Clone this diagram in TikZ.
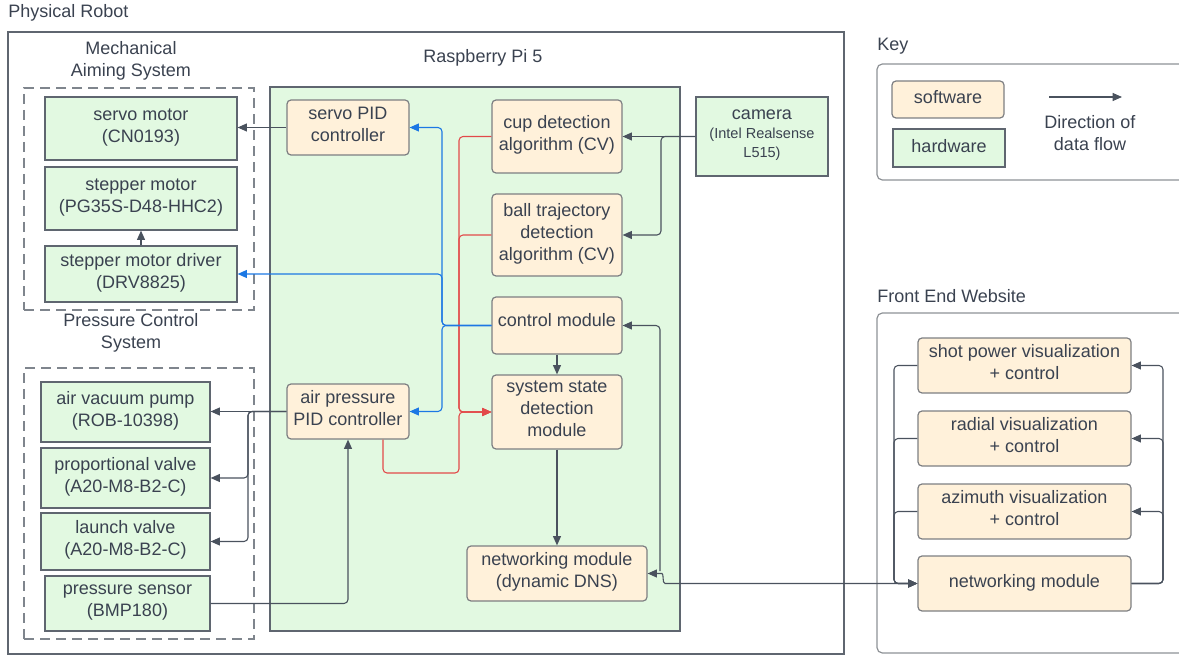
\documentclass[tikz,border=0pt]{standalone}
\usepackage{fontspec}
\setmainfont{Liberation Sans}
\usetikzlibrary{arrows.meta,fit,calc}
\definecolor{txt}{HTML}{3A4250}
\definecolor{bord}{HTML}{5F6670}
\definecolor{sbord}{HTML}{7D7F82}
\definecolor{cbord}{HTML}{8E9296}
\definecolor{gfill}{HTML}{E2F9E1}
\definecolor{ofill}{HTML}{FFF1DA}
\definecolor{linec}{HTML}{4A525E}
\definecolor{redc}{HTML}{E24A4A}
\definecolor{bluec}{HTML}{1C78E4}
\newcommand{\camsmall}{\fontsize{10.9}{14}\selectfont}
\tikzset{
  sz/.style 2 args={minimum width=#1*0.75pt, minimum height=#2*0.75pt},
  struts/.style={execute at begin node=\strut, execute at end node=\strut},
  ml/.style={execute at begin node={\rule{0pt}{15pt}}},
  camtop/.style={execute at begin node={\rule{0pt}{17pt}}},
  hw/.style={draw=bord, fill=gfill, line width=0.9pt, inner sep=0pt, align=center, text=txt, struts},
  sw/.style={draw=sbord, fill=ofill, line width=0.9pt, rounded corners=3pt, inner sep=0pt, align=center, text=txt, struts},
  grp/.style={draw=bord, line width=0.9pt, inner sep=0pt},
  cgrp/.style={draw=cbord, line width=0.9pt, rounded corners=4pt, inner sep=0pt},
  dgrp/.style={draw=bord!80, line width=0.9pt, dash pattern=on 7.5pt off 4.5pt, inner sep=0pt},
  lbl/.style={text=txt, align=center, inner sep=0pt},
  tip/.style={-{Triangle[length=7pt,width=6pt]}},
  flow/.style={draw=linec, line width=0.8pt, rounded corners=3pt, tip},
  flowboth/.style={draw=linec, line width=0.8pt, rounded corners=3pt, {Triangle[length=7pt,width=6pt]}-{Triangle[length=7pt,width=6pt]}},
  rflow/.style={draw=redc, line width=0.8pt, rounded corners=3pt, tip},
  bflow/.style={draw=bluec, line width=0.8pt, rounded corners=3pt, tip},
}
\begin{document}
\begin{tikzpicture}[x=0.75pt,y=-0.75pt,font=\fontsize{13.5}{16.5}\selectfont]
\useasboundingbox (0,0) rectangle (1179,656);
\clip (0,0) rectangle (1179,656);

% containers
\node[grp, fit={(8,32) (844,654)}] (robot) {};
\node[lbl, anchor=west] (robotlbl) at (8,13) {Physical Robot};
\node[dgrp, fit={(24,88) (254,310)}] (mech) {};
\node[lbl] (mechlbl) at (131,61) {Mechanical\\Aiming System};
\node[dgrp, fit={(24,368) (254,639)}] (pres) {};
\node[lbl] (preslbl) at (131,333) {Pressure Control\\System};
\node[hw, fit={(270,87) (680,631)}] (pi) {};
\node[lbl] (pilbl) at (483,58) {Raspberry Pi 5};

% hardware boxes
\node[hw, ml, sz={192}{63}] (servo) at (141,128.5) {servo motor\\(CN0193)};
\node[hw, ml, sz={192}{63}] (stepper) at (141,198.5) {stepper motor\\(PG35S-D48-HHC2)};
\node[hw, ml, sz={192}{56}] (drv) at (141,274) {stepper motor driver\\(DRV8825)};
\node[hw, ml, sz={169}{60}] (pump) at (125.5,412) {air vacuum pump\\(ROB-10398)};
\node[hw, ml, sz={169}{60}] (prop) at (125.5,478) {proportional valve\\(A20-M8-B2-C)};
\node[hw, ml, sz={169}{57}] (launch) at (125.5,541.5) {launch valve\\(A20-M8-B2-C)};
\node[hw, ml, sz={165}{55}] (sensor) at (127.5,603.5) {pressure sensor\\(BMP180)};
\node[hw, camtop, sz={132}{79}] (cam) at (762,136.5) {camera\\[-2pt]\camsmall (Intel Realsense\\[-2.5pt]\camsmall L515)};

% software boxes
\node[sw, ml, sz={122}{55}] (spid) at (348,127.5) {servo PID\\controller};
\node[sw, ml, sz={122}{55}] (apid) at (348,411.5) {air pressure\\PID controller};
\node[sw, sz={130}{73}] (cup) at (557,136.5) {cup detection\\algorithm (CV)};
\node[sw, sz={130}{82}] (ball) at (557,235) {ball trajectory\\detection\\algorithm (CV)};
\node[sw, sz={130}{57}] (ctrl) at (557,325.5) {\raisebox{2.6pt}{control module}};
\node[sw, ml, sz={130}{74}] (sys) at (557,412) {system state\\detection\\module};
\node[sw, ml, sz={180}{55}] (dns) at (557,573.5) {networking module\\(dynamic DNS)};

% key
\node[lbl, anchor=west] (keylbl) at (877,46) {Key};
\node[cgrp, fit={(877,64) (1200,180)}] (key) {};
\node[sw, sz={112}{37}] (ksw) at (948,99.5) {software};
\node[hw, sz={112}{38}] (khw) at (949,148) {hardware};
\coordinate (ka) at (1049,97);
\coordinate (kb) at (1122,97);
\draw[flow] (ka) -- (kb);
\node[lbl] (kdir) at (1090,133) {Direction of\\data flow};

% front end
\node[lbl, anchor=west] (felbl) at (877,296) {Front End Website};
\node[cgrp, fit={(877,313) (1200,653)}] (fe) {};
\node[sw, ml, sz={213}{55}] (shot) at (1024.5,365.5) {shot power visualization\\+ control};
\node[sw, ml, sz={213}{55}] (rad) at (1024.5,438.5) {radial visualization\\+ control};
\node[sw, ml, sz={213}{55}] (azi) at (1024.5,511.5) {azimuth visualization\\+ control};
\node[sw, sz={213}{55}] (fnet) at (1024.5,583.5) {networking module};

% gray connectors
\draw[flow] (spid.west) -- (servo.east |- spid.west);
\draw[flow] (drv.north) -- (stepper.south);
\draw[flow] (apid.west) -- (pump.east |- apid.west);
\draw[flow] (apid.west) -- (248,411.5) |- (prop.east);
\draw[flow] (apid.west) -- (248,411.5) |- (launch.east);
\draw[flow] (sensor.east) -| (apid.south);
\draw[flow] (cam.west) -- (cup.east);
\draw[flow] (cam.west) -- (661,136.5) |- (ball.east);
\draw[flow] (ctrl.south) -- (sys.north);
\draw[flow] (sys.south) -- (dns.north);

% red connectors
\draw[rflow] (cup.west) -- (459,136.5) |- (sys.west);
\draw[rflow] (ball.west) -- (459,235) |- (sys.west);
\draw[rflow] ($(apid.south)+(35,0)$) |- (459,473) |- (sys.west);

% blue connectors
\draw[bflow] (ctrl.west) -- (442,325.5) |- (spid.east);
\draw[bflow] (ctrl.west) -- (442,325.5) |- (drv.east);
\draw[bflow] (ctrl.west) -- (442,325.5) |- (apid.east);

% website links
\draw[flowboth] (dns.east) -- (658,573.5) .. controls (664,573.5) and (662,583.5) .. (669,583.5) -- (fnet.west);
\coordinate (jn) at (660,571);
\draw[flow] (jn) -- (660,325.5) -- (ctrl.east);
\draw[flow] (shot.west) -- (894,365.5) |- (fnet.west);
\draw[flow] (rad.west) -- (894,438.5) |- (fnet.west);
\draw[flow] (azi.west) -- (894,511.5) |- (fnet.west);
\draw[flow] (fnet.east) -- (1163,583.5) |- (shot.east);
\draw[flow] (fnet.east) -- (1163,583.5) |- (rad.east);
\draw[flow] (fnet.east) -- (1163,583.5) |- (azi.east);
\end{tikzpicture}
\end{document}
